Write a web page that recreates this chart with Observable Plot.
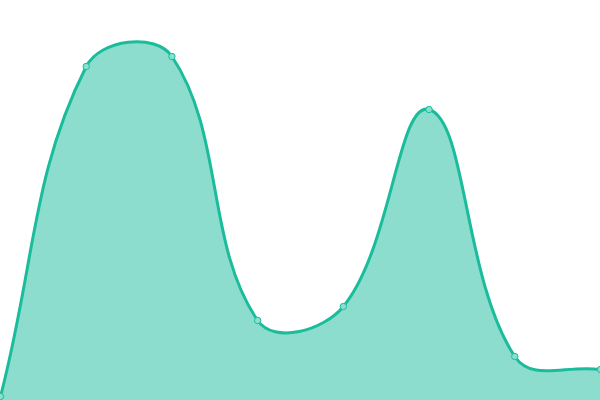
<!DOCTYPE html>
<html><head><meta charset="utf-8">
<script src="https://cdn.jsdelivr.net/npm/d3@7"></script>
<script src="https://cdn.jsdelivr.net/npm/@observablehq/plot@0.6"></script>
<style>body{margin:0;background:#fff}</style>
</head><body><div id="chart"></div>
<script>
const xs = [0, 1, 2, 3, 4, 5, 6, 7];
const values = [1, 83.5, 86, 20, 23.5, 72.75, 11, 7.75];
const data = xs.map((x, i) => ({x, y: values[i]}));

// Distance-weighted spline (tension 0.4), control points capped to the plot area
function splineCurve(tension, W, H) {
  return function(context) {
    return {
      _line: NaN,
      areaStart() { this._line = 0; },
      areaEnd() { this._line = NaN; },
      lineStart() { this._pts = []; },
      point(x, y) { this._pts.push([+x, +y]); },
      lineEnd() {
        const p = this._pts, n = p.length;
        if (n) {
          if (this._line) context.lineTo(p[0][0], p[0][1]); else context.moveTo(p[0][0], p[0][1]);
          const cpPrev = [], cpNext = [];
          const cx = v => Math.max(0, Math.min(W, v)), cy = v => Math.max(0, Math.min(H, v));
          for (let i = 0; i < n; i++) {
            const prev = i > 0 ? p[i - 1] : p[i], cur = p[i], next = i < n - 1 ? p[i + 1] : p[i];
            const d01 = Math.hypot(cur[0] - prev[0], cur[1] - prev[1]);
            const d12 = Math.hypot(next[0] - cur[0], next[1] - cur[1]);
            let s01 = d01 / (d01 + d12), s12 = d12 / (d01 + d12);
            if (isNaN(s01)) s01 = 0; if (isNaN(s12)) s12 = 0;
            const fa = tension * s01, fb = tension * s12;
            cpPrev.push([cx(cur[0] - fa * (next[0] - prev[0])), cy(cur[1] - fa * (next[1] - prev[1]))]);
            cpNext.push([cx(cur[0] + fb * (next[0] - prev[0])), cy(cur[1] + fb * (next[1] - prev[1]))]);
          }
          for (let i = 1; i < n; i++) {
            context.bezierCurveTo(cpNext[i - 1][0], cpNext[i - 1][1], cpPrev[i][0], cpPrev[i][1], p[i][0], p[i][1]);
          }
        }
        if (this._line || (this._line !== 0 && n === 1)) context.closePath();
        this._line = 1 - this._line;
      }
    };
  };
}
const curve = splineCurve(0.4, 600, 400);

const chart = Plot.plot({
  width: 600, height: 400, margin: 0,
  x: {domain: [0, 7], axis: null},
  y: {domain: [0, 100], axis: null},
  marks: [
    Plot.areaY(data, {x: "x", y: "y", curve, fill: "#1abc9c", fillOpacity: 0.5}),
    Plot.lineY(data, {x: "x", y: "y", curve, stroke: "#1abc9c", strokeWidth: 3}),
    Plot.dot(data, {x: "x", y: "y", r: 3.2, fill: "#8ae0cf", stroke: "#1abc9c", strokeWidth: 1})
  ]
});
document.getElementById("chart").appendChild(chart);
</script></body></html>
